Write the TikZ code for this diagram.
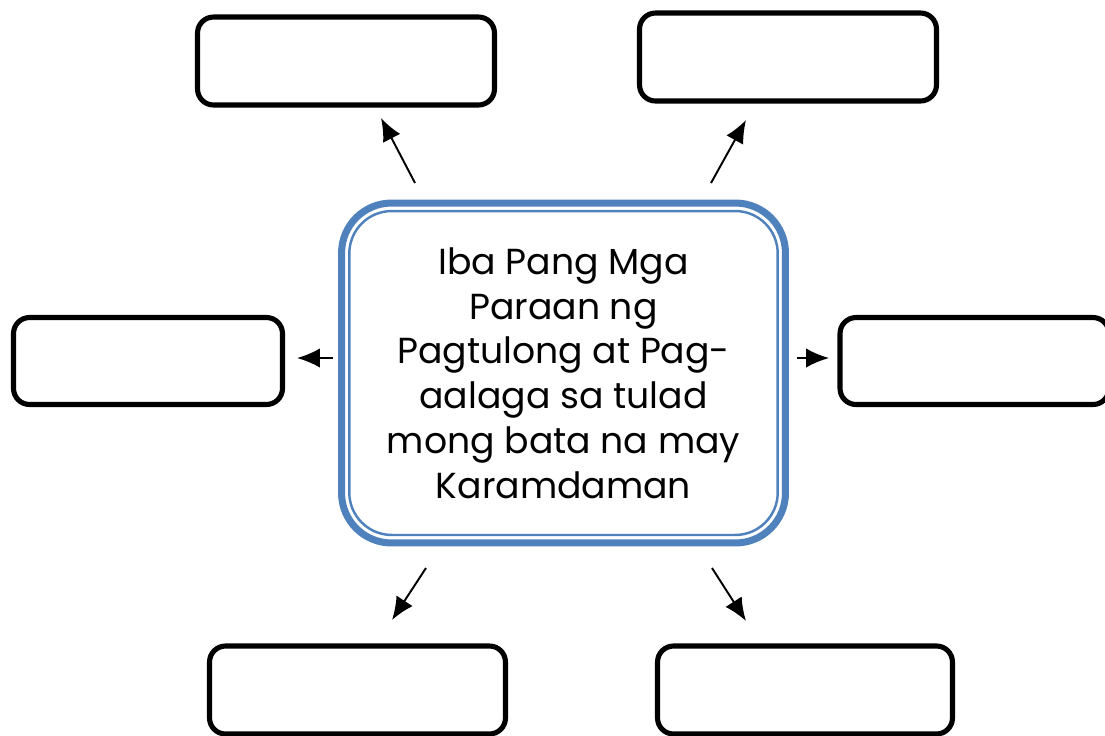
\documentclass[tikz,border=0pt]{standalone}
\usepackage{fontspec}
\setmainfont{Poppins}
\usetikzlibrary{arrows.meta}
\definecolor{boxblue}{HTML}{4F81BD}

\tikzset{
  emptybox/.style={draw=black, line width=2.9pt, rounded corners=0.32cm,
    inner sep=0pt, minimum width=5.94cm, minimum height=1.76cm},
  arr/.style={-{Latex[length=13pt,width=11pt]}, line width=1.1pt}
}

\begin{document}
\begin{tikzpicture}[x=0.02cm, y=-0.02cm]

\useasboundingbox (0,0) rectangle (1105,735);
\clip (0,0) rectangle (1105,735);

% center
\node[draw=boxblue, line width=4pt, rounded corners=1cm, inner sep=0pt, outer sep=0pt,
  minimum width=8.88cm, minimum height=6.8cm, align=center,
  font=\fontsize{20.6}{25.5}\selectfont] (c) at (563.5,373)
  {Iba Pang Mga\\Paraan ng\\Pagtulong at Pag-\\aalaga sa tulad\\mong bata na may\\Karamdaman};
\draw[boxblue, line width=1.4pt, rounded corners=0.85cm]
  ([xshift=0.155cm,yshift=0.16cm]c.south west) rectangle ([xshift=-0.155cm,yshift=-0.16cm]c.north east);

% boxes
\node[emptybox] (tl) at (346,61) {};
\node[emptybox] (tr) at (788,57) {};
\node[emptybox, minimum width=5.38cm, minimum height=1.74cm] (l) at (148,361) {};
\node[emptybox, minimum width=5.38cm, minimum height=1.74cm] (r) at (974.5,361) {};
\node[emptybox, minimum width=5.92cm] (bl) at (357.5,690) {};
\node[emptybox, minimum width=5.9cm] (br) at (805,690) {};

% arrow ends
\coordinate (s1) at (415,183); \coordinate (e1) at (381,118);
\coordinate (s2) at (711,183); \coordinate (e2) at (746,120);
\coordinate (s3) at (333,358); \coordinate (e3) at (297,358);
\coordinate (s4) at (797,358); \coordinate (e4) at (829,358);
\coordinate (s5) at (426,568); \coordinate (e5) at (392,620);
\coordinate (s6) at (712,568); \coordinate (e6) at (746,621);

\draw[arr] (s1) -- (e1);
\draw[arr] (s2) -- (e2);
\draw[arr] (s3) -- (e3);
\draw[arr] (s4) -- (e4);
\draw[arr] (s5) -- (e5);
\draw[arr] (s6) -- (e6);

\end{tikzpicture}
\end{document}
